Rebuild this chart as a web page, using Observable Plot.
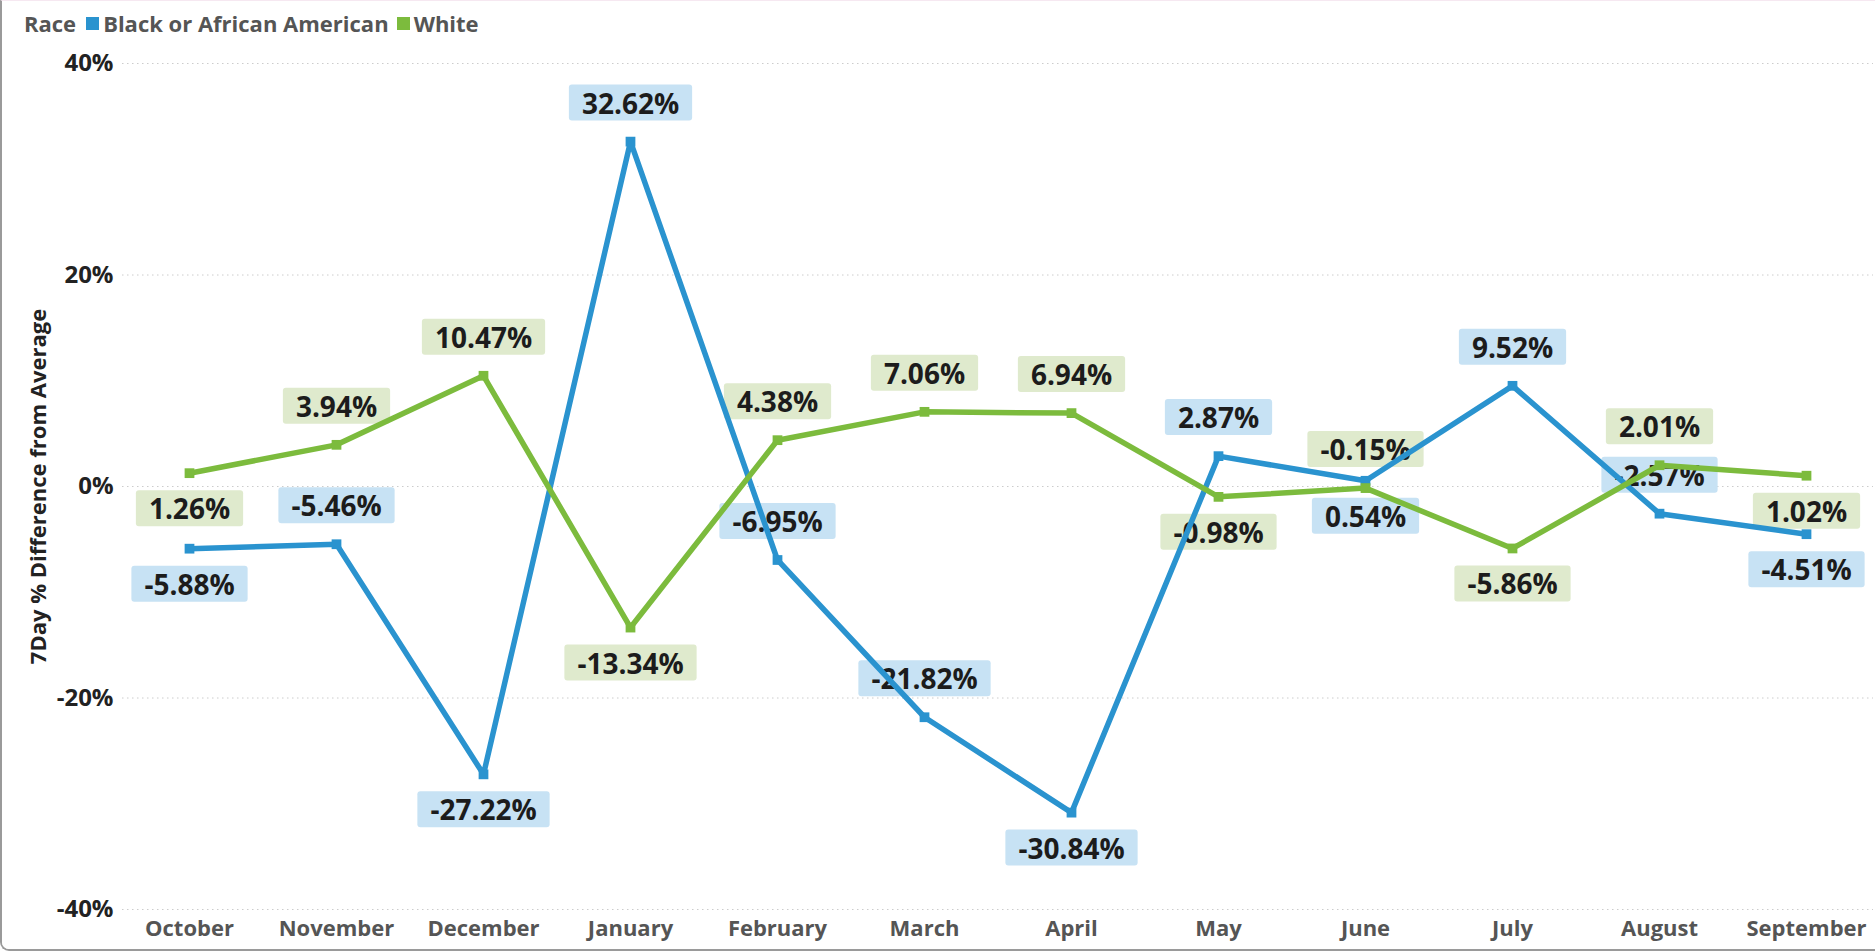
<!DOCTYPE html>
<html>
<head>
<meta charset="utf-8">
<script src="https://cdn.jsdelivr.net/npm/d3@7"></script>
<script src="https://cdn.jsdelivr.net/npm/@observablehq/plot@0.6"></script>
<style>
  html, body { margin: 0; padding: 0; background: #fff; }
  #wrap {
    width: 1875px; height: 951px; box-sizing: border-box; overflow: hidden;
    border-left: 2px solid #9a9a9a; border-bottom: 2px solid #9a9a9a;
    border-top: 1px solid #f6e8f1; border-bottom-left-radius: 9px;
    font-family: "Open Sans", "Noto Sans", sans-serif; background: #fff;
  }
  #legend {
    height: 44px; display: flex; align-items: center; padding-left: 22px;
    font-size: 22px; font-weight: 700; color: #555; white-space: nowrap;
  }
  #legend .title { margin-right: 10px; }
  #legend .sw { display: inline-block; width: 13px; height: 13px; margin-right: 4px; }
  #legend .item { margin-right: 8px; display: inline-flex; align-items: center; }
  #chart svg { display: block; }
</style>
</head>
<body>
<div id="wrap">
  <div id="legend"></div>
  <div id="chart"></div>
</div>
<script>
// ---- data ----
const months = ["October", "November", "December", "January", "February", "March",
                "April", "May", "June", "July", "August", "September"];
const races = ["Black or African American", "White"];
const blackValues = [-5.88, -5.46, -27.22, 32.62, -6.95, -21.82, -30.84, 2.87, 0.54, 9.52, -2.57, -4.51];
const whiteValues = [1.26, 3.94, 10.47, -13.34, 4.38, 7.06, 6.94, -0.98, -0.15, -5.86, 2.01, 1.02];
const yTicks = [-40, -20, 0, 20, 40];
const yLabel = "7Day % Difference from Average";
const legendTitle = "Race";

// ---- styling ----
const lineColors = ["#2a93cf", "#7cbb3d"];
const boxColors = ["#c7e2f4", "#dfeacd"];

// ---- build rows ----
const seriesValues = [blackValues, whiteValues];
const rows = [];
races.forEach((race, s) => {
  const vals = seriesValues[s];
  vals.forEach((v, i) => {
    const nb = [];
    if (i > 0) nb.push(vals[i - 1]);
    if (i < vals.length - 1) nb.push(vals[i + 1]);
    const below = nb.every(n => v < n); // local minimum -> label below
    rows.push({month: months[i], race, s, value: v, below});
  });
});

// ---- legend ----
const legend = document.getElementById("legend");
const t = document.createElement("span");
t.className = "title"; t.textContent = legendTitle; legend.append(t);
races.forEach((r, i) => {
  const it = document.createElement("span"); it.className = "item";
  const sw = document.createElement("span"); sw.className = "sw"; sw.style.background = lineColors[i];
  it.append(sw, document.createTextNode(r));
  legend.append(it);
});

// ---- label marks ----
const labelMarks = [];
races.forEach((race, s) => {
  [false, true].forEach(below => {
    labelMarks.push(Plot.text(rows.filter(d => d.s === s && d.below === below), {
      x: "month", y: "value",
      text: d => d.value.toFixed(2) + "%",
      dy: below ? 37 : -37,
      fontSize: 28, fontWeight: "bold", fill: "#1c1c1c",
      ariaDescription: "datalabel " + s
    }));
  });
});

const plot = Plot.plot({
  width: 1873, height: 904,
  marginLeft: 120, marginRight: 2, marginTop: 18, marginBottom: 40,
  style: {fontFamily: "'Open Sans', 'Noto Sans', sans-serif", background: "white", overflow: "visible"},
  x: {type: "point", domain: months, padding: 0.43},
  y: {domain: [-40, 40]},
  color: {domain: races, range: lineColors},
  marks: [
    Plot.gridY(yTicks, {stroke: "#cccccc", strokeOpacity: 1, strokeDasharray: "1.5,3.5"}),
    Plot.axisX({tickSize: 0, tickPadding: 11, fontSize: 22, fontWeight: "bold", color: "#555", label: null}),
    Plot.axisY(yTicks, {tickSize: 0, tickPadding: 9, tickFormat: d => d + "%", fontSize: 24, fontWeight: "bold", color: "#222", label: null}),
    Plot.text([yLabel], {frameAnchor: "left", textAnchor: "middle", text: d => d, rotate: -90, dx: -84, fontSize: 22, fontWeight: "bold", fill: "#222"}),
    ...labelMarks,
    Plot.line(rows, {x: "month", y: "value", z: "race", stroke: "race", strokeWidth: 5.5}),
    Plot.dot(rows, {x: "month", y: "value", fill: "race", symbol: "square", r: 5.5})
  ]
});

document.getElementById("chart").append(plot);

// ---- add label boxes behind the data label texts ----
const svgNS = "http://www.w3.org/2000/svg";
plot.querySelectorAll('g[aria-description^="datalabel"]').forEach(g => {
  const s = +g.getAttribute("aria-description").split(" ")[1];
  g.querySelectorAll("text").forEach(txt => {
    const bb = txt.getBBox();
    const h = 36, padX = 13;
    const rect = document.createElementNS(svgNS, "rect");
    rect.setAttribute("x", bb.x - padX);
    rect.setAttribute("y", bb.y + bb.height / 2 - h / 2);
    rect.setAttribute("width", bb.width + 2 * padX);
    rect.setAttribute("height", h);
    rect.setAttribute("rx", 3);
    rect.setAttribute("fill", boxColors[s]);
    const tr = txt.getAttribute("transform");
    if (tr) rect.setAttribute("transform", tr);
    g.insertBefore(rect, txt);
  });
});
</script>
</body>
</html>
